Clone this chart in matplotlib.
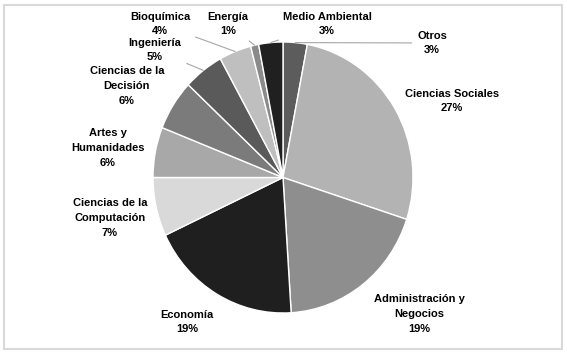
import numpy as np
import matplotlib.pyplot as plt
from matplotlib.patches import Rectangle

# Slices, clockwise from 12 o'clock
categories = [
    "Otros",
    "Ciencias Sociales",
    "Administración y\nNegocios",
    "Economía",
    "Ciencias de la\nComputación",
    "Artes y\nHumanidades",
    "Ciencias de la\nDecisión",
    "Ingeniería",
    "Bioquímica",
    "Energía",
    "Medio Ambiental",
]
values = [3, 27, 19, 19, 7, 6, 6, 5, 4, 1, 3]

colors = [
    "#5c5c5c", "#b3b3b3", "#8e8e8e", "#1f1f1f", "#d9d9d9", "#a8a8a8",
    "#7b7b7b", "#5a5a5a", "#bfbfbf", "#8a8a8a", "#202020",
]

# label centres in image pixels (x from left, y from top)
label_pos = [
    (432, 43), (452, 101), (419, 314), (187, 322), (110, 218), (108, 148),
    (127, 86), (155, 50), (160, 24), (228, 24), (327, 24),
]
# which labels get a grey leader line
leader = [True, False, False, False, False, False, False, True, True, True, True]

W, H = 567, 354
fig = plt.figure(figsize=(W / 100, H / 100), dpi=100)
fig.patch.set_facecolor("white")

# pie sits in a box 260 x 271 px centred at (283, 177.5)
cx, cy, rx, ry = 283, 177.5, 130, 135.5
ax = fig.add_axes([0, 0, 1, 1])
wedges, _ = ax.pie(
    values,
    colors=colors,
    startangle=90,
    counterclock=False,
    wedgeprops=dict(edgecolor="white", linewidth=1.0),
)
ax.set_aspect("auto")
ax.set_xlim(-cx / rx, (W - cx) / rx)
ax.set_ylim(-(H - cy) / ry, cy / ry)
ax.axis("off")

font = dict(fontsize=8, fontweight="bold",
            family=["Liberation Sans", "DejaVu Sans"], linespacing=1.6)

for w, lab, v, (px, py), ld in zip(wedges, categories, values, label_pos, leader):
    txt = f"{lab}\n{v}%"
    if ld:
        ang = np.deg2rad((w.theta1 + w.theta2) / 2)
        ax.annotate(
            txt, xy=(np.cos(ang), np.sin(ang)),
            xytext=(px, H - py), textcoords="figure pixels",
            ha="center", va="center", **font,
            arrowprops=dict(arrowstyle="-", color="#a6a6a6", lw=0.8,
                            shrinkA=2, shrinkB=0),
        )
    else:
        fig.text(px / W, 1 - py / H, txt, ha="center", va="center", **font)

# light grey frame round the chart
fig.patches.append(Rectangle((4 / W, 5 / H), 558 / W, 344 / H,
                             transform=fig.transFigure, fill=False,
                             edgecolor="#d9d9d9", linewidth=1.5))

fig.savefig("out.png", dpi=100)
